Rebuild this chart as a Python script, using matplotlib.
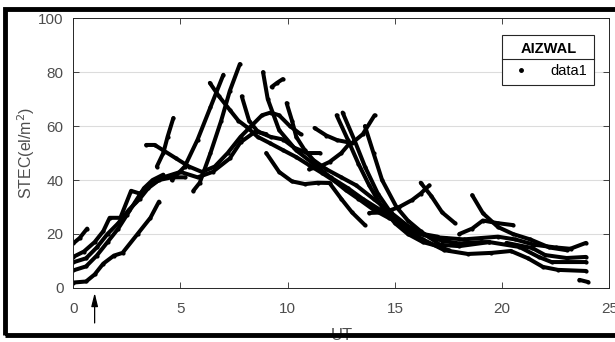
import matplotlib.pyplot as plt
from matplotlib.patches import Rectangle
from matplotlib.lines import Line2D

plt.rcParams['font.family'] = ['Liberation Sans', 'DejaVu Sans']

# STEC tracks (one per satellite pass), UT hours vs STEC values
p01_ut = [0, 0.3, 0.65]
p01_tec = [16.5, 18.5, 22]
p02_ut = [0, 0.5, 1.0, 1.4, 1.7, 2.2, 2.7, 3.1, 3.6, 4.2, 5.0, 5.8, 6.5, 7.3, 7.8, 8.5, 9.0]
p02_tec = [11.5, 13.5, 17, 21, 26, 26, 36, 35, 38, 41, 43, 41, 43, 48, 54, 58, 57]
p03_ut = [0, 0.6, 1.1, 1.6, 2.1, 2.6, 3.1, 3.5, 4.0, 4.6, 5.2]
p03_tec = [9.5, 11, 15, 20, 24, 29, 33, 37, 40, 41, 41]
p04_ut = [0, 0.6, 1.1, 1.6, 2.1, 2.5, 2.9, 3.3, 3.7, 4.2]
p04_tec = [6.5, 8, 12, 17, 22, 27, 32, 37, 40, 42]
p05_ut = [0, 0.6, 1.0, 1.4, 1.9, 2.3, 3.0, 3.6, 4.0]
p05_tec = [2, 2.4, 5, 9, 12, 13, 20, 26, 32]
p06_ut = [3.9, 4.2, 4.4, 4.67]
p06_tec = [45, 50, 56, 63]
p07_ut = [3.4, 3.8, 4.2, 4.8, 5.4, 6.0, 6.6, 7.2, 7.8, 8.3, 8.8, 9.2, 9.6, 10.1, 10.6]
p07_tec = [53, 53, 51, 48, 45, 43, 45, 50, 56, 60, 64, 65, 64, 60, 57]
p08_ut = [5.6, 5.9, 6.4, 6.9, 7.3, 7.77]
p08_tec = [36, 39, 50, 62, 73, 83]
p09_ut = [6.37, 6.8, 7.3, 7.7, 8.1, 8.6, 9.16, 9.8, 10.4, 11.0, 11.6, 12.2, 12.7, 13.3, 14.0, 14.7, 15.5, 16.3, 17.0]
p09_tec = [76, 71, 66, 62, 59.6, 56, 53.7, 51, 48.5, 45.5, 42.6, 39.5, 36.3, 33, 29, 26, 23, 20, 19]
p10_ut = [4.6, 5.2, 5.8, 6.4, 7.0]
p10_tec = [40, 45, 55, 67, 79]
p11_ut = [7.86, 8.2, 8.6, 9.2, 9.8, 10.3, 10.9, 11.5]
p11_tec = [71, 62, 58, 56, 55, 52, 50, 50]
p12_ut = [8.85, 9.07, 9.6, 10.4, 11.2, 12.0, 12.8, 13.5, 14.3, 15.0, 15.8, 16.6, 17.4, 18.2, 19.0, 19.8, 20.6, 21.5, 22.5, 23.2]
p12_tec = [80, 70, 58.5, 51, 46, 41, 37, 33, 29, 25, 21, 19, 18.5, 18, 18.5, 19, 18, 16, 15, 14.5]
p13_ut = [9.25, 9.5, 9.77]
p13_tec = [74.5, 76, 77.4]
p14_ut = [9.95, 10.2, 10.4, 10.8, 11.2, 11.8, 12.5, 13.2, 14.0, 14.8, 15.6, 16.3, 17.2, 18.0, 19.0, 19.4]
p14_tec = [68.5, 62, 56, 51, 47.4, 44, 41, 38, 33, 28, 23, 20, 17.5, 16.5, 17, 17]
p15_ut = [11.25, 11.8, 12.3, 13.0, 13.5, 14.05]
p15_tec = [59.3, 56.5, 54.8, 53.7, 57, 64]
p16_ut = [11.0, 11.5, 11.95, 12.5, 12.9]
p16_tec = [44, 45, 46.7, 50, 53.7]
p17_ut = [12.28, 12.8, 13.3, 13.8, 14.4, 15.0, 15.6, 16.3, 17.0, 17.5]
p17_tec = [64, 55, 46, 38, 30, 24, 20, 17, 15.5, 14]
p18_ut = [12.56, 13.1, 13.6, 14.2, 14.8, 15.5, 16.3, 17.3, 18.4, 19.5, 20.4, 21.2, 21.9, 22.6, 23.9]
p18_tec = [65, 55, 45, 35, 28, 22, 18, 14, 12.6, 13, 13.7, 11, 7.8, 6.7, 6.3]
p19_ut = [13.6, 14.0, 14.4, 15.07, 15.6, 16.2, 17.1, 18.0, 19.4, 20.8, 21.7, 22.3, 23.9]
p19_tec = [60, 50, 40, 30, 25, 21, 16, 15.5, 17, 15.2, 11.5, 9.6, 9.6]
p20_ut = [9.0, 9.6, 10.2, 10.8, 11.4, 11.95, 12.5, 13.0, 13.6]
p20_tec = [50, 43, 39.5, 38.5, 39, 38.9, 33, 28, 23.3]
p21_ut = [13.8, 14.5, 15.2, 15.8, 16.2, 16.6]
p21_tec = [27.8, 28, 30, 32.6, 35, 38]
p22_ut = [16.2, 16.7, 17.2, 17.8]
p22_tec = [39, 34, 28, 24]
p23_ut = [18.6, 19.1, 19.8, 20.5, 21.3, 22.2, 23.0, 23.9]
p23_tec = [34.4, 27.7, 22.6, 20, 18, 15, 14, 16.7]
p24_ut = [18.0, 18.6, 19.1, 19.8, 20.5]
p24_tec = [20, 22, 25, 24, 23.3]
p25_ut = [20.2, 21.4, 22.0, 23.0, 23.9]
p25_tec = [16.7, 14.8, 12.2, 11.1, 11.5]
p26_ut = [23.6, 24.0]
p26_tec = [3, 2.2]

passes = [
    (p01_ut, p01_tec), (p02_ut, p02_tec), (p03_ut, p03_tec), (p04_ut, p04_tec),
    (p05_ut, p05_tec), (p06_ut, p06_tec), (p07_ut, p07_tec), (p08_ut, p08_tec),
    (p09_ut, p09_tec), (p10_ut, p10_tec), (p11_ut, p11_tec), (p12_ut, p12_tec),
    (p13_ut, p13_tec), (p14_ut, p14_tec), (p15_ut, p15_tec), (p16_ut, p16_tec),
    (p17_ut, p17_tec), (p18_ut, p18_tec), (p19_ut, p19_tec), (p20_ut, p20_tec),
    (p21_ut, p21_tec), (p22_ut, p22_tec), (p23_ut, p23_tec), (p24_ut, p24_tec),
    (p25_ut, p25_tec), (p26_ut, p26_tec),
]

fig = plt.figure(figsize=(6.15, 3.42), dpi=100)
ax = fig.add_axes([0.119, 0.158, 0.872, 0.789])

for ut, tec in passes:
    ax.plot(ut, tec, color='black', lw=2.9, marker='.', ms=4, solid_capstyle='round')

# legend handle: just the dot
ax.plot([], [], 'k.', ms=5, label='data1')

ax.set_xlim(0, 25)
ax.set_ylim(0, 100)
ax.set_xticks([0, 5, 10, 15, 20, 25])
ax.set_yticks([0, 20, 40, 60, 80, 100])
ax.grid(axis='y', color='#dcdcdc', lw=0.8)
ax.set_axisbelow(True)
ax.tick_params(direction='in', top=True, right=True, length=4, width=0.6,
               color='#262626', labelcolor='#4d4d4d', labelsize=11)
ax.tick_params(axis='x', pad=10)
ax.tick_params(axis='y', pad=7)
for s in ax.spines.values():
    s.set_color('#262626')
    s.set_linewidth(0.7)

# the frame below covers most of the UT label, as in the original
ax.set_xlabel('UT', fontsize=12, color='#4d4d4d', labelpad=9)
ax.set_ylabel('STEC(el/m$^2$)', fontsize=11.5, color='#4d4d4d', labelpad=1)

# arrow under x = 1 UT
ax.annotate('', xy=(1, -0.8), xytext=(1, -14),
            arrowprops=dict(arrowstyle='-|>,head_width=0.2,head_length=0.8', color='black', lw=0.9),
            annotation_clip=False)

leg = ax.legend(title='AIZWAL', loc='upper right', bbox_to_anchor=(0.972, 0.937),
                borderaxespad=0, fancybox=False, framealpha=1, edgecolor='#262626',
                fontsize=10.5, handlelength=1.6, handletextpad=1.2, borderpad=0.5)
leg.get_title().set_fontweight('bold')
leg.get_title().set_fontsize(10.5)
leg.get_frame().set_linewidth(0.8)

# separator between legend title and entry
fig.canvas.draw()
lb = leg.get_window_extent()
tb = leg.get_title().get_window_extent()
ysep = tb.y0 - 3
fig.add_artist(Line2D([lb.x0, lb.x1], [ysep, ysep], transform=None, color='#262626', lw=0.8))

# outer frame
fig.add_artist(Rectangle((0.008, 0.02), 1.0, 0.955, transform=fig.transFigure,
                         fill=False, edgecolor='black', lw=3.5, zorder=10))

fig.savefig('out.png', dpi=100)
